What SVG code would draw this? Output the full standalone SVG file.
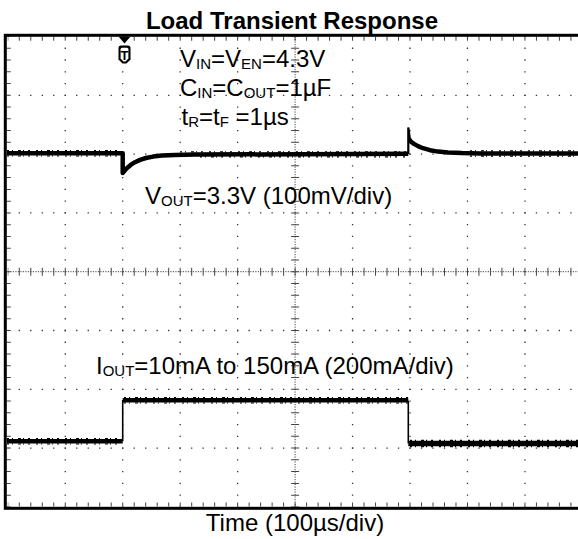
<svg xmlns="http://www.w3.org/2000/svg" width="578" height="539" viewBox="0 0 578 539">
<style>
.t{font-family:"Liberation Sans",Arial,sans-serif;font-size:24px;fill:#000}
.s{font-size:15px}
.b{font-weight:bold}
.dv{stroke:#333;stroke-width:1.3;stroke-dasharray:1.3 10.46;stroke-dashoffset:0.65;fill:none}
.dh{stroke:#333;stroke-width:1.3;stroke-dasharray:1.3 10.192;stroke-dashoffset:0.65;fill:none}
.ax{stroke:#444;stroke-width:1;stroke-dasharray:1.2 1.3;fill:none}
.th{stroke:#444;stroke-width:1;stroke-dasharray:1 10.492;stroke-dashoffset:0.5;fill:none}
.tv{stroke:#444;stroke-width:1;stroke-dasharray:1 10.76;stroke-dashoffset:0.5;fill:none}
.tr{fill:none;stroke:#000;stroke-width:4.5;stroke-linejoin:round}
.ed{fill:none;stroke:#000;stroke-width:1.6}
.fz{fill:none;stroke:#000;stroke-width:1.2;stroke-dasharray:2 3 1 5 3 2 1 4 2 6}
</style>
<rect width="578" height="539" fill="#fff"/>
<g id="title"><text class="t b" x="292" y="29" text-anchor="middle">Load Transient Response</text></g>
<g id="grid">
<line class="dv" x1="65.26" y1="36.5" x2="65.26" y2="506.9"/>
<line class="dv" x1="122.72" y1="36.5" x2="122.72" y2="506.9"/>
<line class="dv" x1="180.18" y1="36.5" x2="180.18" y2="506.9"/>
<line class="dv" x1="237.64" y1="36.5" x2="237.64" y2="506.9"/>
<line class="dv" x1="352.56" y1="36.5" x2="352.56" y2="506.9"/>
<line class="dv" x1="410.02" y1="36.5" x2="410.02" y2="506.9"/>
<line class="dv" x1="467.48" y1="36.5" x2="467.48" y2="506.9"/>
<line class="dv" x1="524.94" y1="36.5" x2="524.94" y2="506.9"/>
<line class="dh" x1="7.8" y1="95.3" x2="582.4" y2="95.3"/>
<line class="dh" x1="7.8" y1="154.1" x2="582.4" y2="154.1"/>
<line class="dh" x1="7.8" y1="212.9" x2="582.4" y2="212.9"/>
<line class="dh" x1="7.8" y1="330.5" x2="582.4" y2="330.5"/>
<line class="dh" x1="7.8" y1="389.3" x2="582.4" y2="389.3"/>
<line class="dh" x1="7.8" y1="448.1" x2="582.4" y2="448.1"/>
<line class="ax" x1="7.8" y1="271.7" x2="582.4" y2="271.7"/>
<line class="th" x1="7.8" y1="271.7" x2="582.4" y2="271.7" style="stroke-width:8"/>
<line class="ax" x1="295.1" y1="36.5" x2="295.1" y2="506.9"/>
<line class="tv" x1="295.1" y1="36.5" x2="295.1" y2="506.9" style="stroke-width:8"/>
<line class="th" x1="7.8" y1="38.8" x2="582.4" y2="38.8" style="stroke-width:4"/>
<line class="th" x1="7.8" y1="504.6" x2="582.4" y2="504.6" style="stroke-width:4"/>
<line class="tv" x1="8.8" y1="36.5" x2="8.8" y2="506.9" style="stroke-width:4"/>
</g>
<g id="frame"><rect x="5.3" y="35.3" width="600" height="473" fill="none" stroke="#000" stroke-width="3"/></g>
<g id="traces">
<path class="tr" d="M7,153.3 L122.7,153.3 L122.7,173 L124,171.4 L126,169.1 L128,167.2 L131,164.7 L135,162.2 L140,159.9 L146,158 L153,156.6 L162,155.6 L175,154.9 L195,154.6 L300,154.2 L408.3,153.8"/>
<path class="ed" d="M408.3,154 V127.5 L410,140" style="stroke-width:2.2"/>
<path class="tr" d="M409.5,139.5 L411,141.7 L414,143.9 L418,146.1 L423,148.2 L430,150.2 L438,151.6 L448,152.5 L462,153.1 L480,153.4 L578,153.5"/>
<path class="fz" d="M7,150.6 H122 M180,151.9 H408 M470,150.8 H578"/>
<path class="fz" d="M7,156 H122 M200,156.8 H408 M470,156.2 H578"/>
<path class="tr" d="M7,441.3 H122.7"/>
<path class="ed" d="M122.7,441.3 V400"/>
<path class="tr" d="M122.7,400.3 H408.3"/>
<path class="ed" d="M408.3,400.7 V443.5"/>
<path class="tr" d="M408.3,443.5 H578" style="stroke-width:5.5"/>
<path class="fz" d="M7,438.6 H122 M124,397.6 H408 M410,440.4 H578"/>
<path class="fz" d="M7,444 H122 M124,403 H408 M410,446.6 H578"/>
</g>
<g id="trigger">
<polygon points="118.5,36.5 130.5,36.5 124.5,43.5" fill="#000"/>
<path d="M118.5,48 Q118.5,45.5 121,45.5 L128,45.5 Q130.5,45.5 130.5,48 L130.5,59.5 L126.5,63.5 L122.5,63.5 L118.5,59.5 Z" fill="#000"/>
<path d="M120.6,49.2 Q120.6,47.7 122.1,47.7 L126.9,47.7 Q128.4,47.7 128.4,49.2 L128.4,58.6 L125.6,61.4 L123.4,61.4 L120.6,58.6 Z" fill="#fff"/>
<text class="t b" x="124.5" y="59.6" text-anchor="middle" style="font-size:13px">T</text>
</g>
<g id="labels">
<text class="t" x="180" y="67">V<tspan class="s" dy="1.5">IN</tspan><tspan dy="-1.5">=V</tspan><tspan class="s" dy="1.5">EN</tspan><tspan dy="-1.5">=4.3V</tspan></text>
<text class="t" x="180" y="96">C<tspan class="s" dy="1.5">IN</tspan><tspan dy="-1.5">=C</tspan><tspan class="s" dy="1.5">OUT</tspan><tspan dy="-1.5">=1µF</tspan></text>
<text class="t" x="181.5" y="125">t<tspan class="s" dy="1.5">R</tspan><tspan dy="-1.5">=t</tspan><tspan class="s" dy="1.5">F</tspan><tspan dy="-1.5"> =1µs</tspan></text>
<text class="t" x="145" y="204">V<tspan class="s" dy="1.5">OUT</tspan><tspan dy="-1.5">=3.3V (100mV/div)</tspan></text>
<text class="t" x="96" y="374">I<tspan class="s" dy="1.5">OUT</tspan><tspan dy="-1.5">=10mA to 150mA (200mA/div)</tspan></text>
<text class="t" x="295" y="531" text-anchor="middle">Time (100µs/div)</text>
</g>
</svg>
